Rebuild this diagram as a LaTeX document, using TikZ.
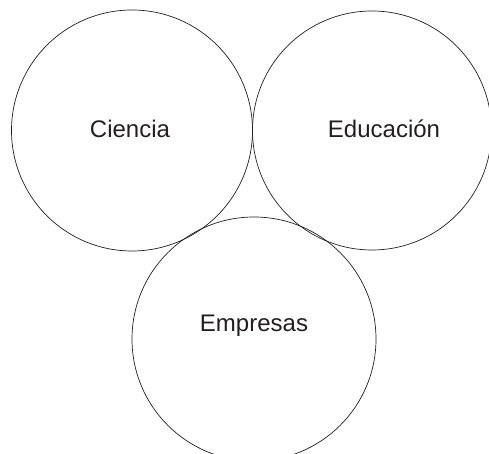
\documentclass[tikz,border=0pt]{standalone}
\usepackage{fontspec}
\setmainfont{Liberation Sans}
\definecolor{inkgrey}{HTML}{231F20}
\usetikzlibrary{positioning}

\begin{document}
\begin{tikzpicture}[x=1pt, y=1pt,
    field/.style={draw=inkgrey, line width=0.7pt, circle, inner sep=0pt},
    fieldname/.style={text=inkgrey, font=\fontsize{24}{28}\selectfont, anchor=base, inner sep=0pt}]
        % Frame
        \useasboundingbox (0,0) rectangle (489,454);
        \clip (0,0) rectangle (489,454);

        % Upper left: Ciencia
        \node[field, minimum size=241pt] (ciencia) at (132,323.5) {};
        \node[fieldname] at (130,316) {Ciencia};

        % Upper right: Educacion
        \node[field, minimum size=239pt] (educacion) at (372,323.5) {};
        \node[fieldname] at (384,316) {Educación};

        % Bottom: Empresas
        \node[field, minimum size=244pt] (empresas) at (254,115) {};
        \node[fieldname] at (254,122.5) {Empresas};
    \end{tikzpicture}
\end{document}
